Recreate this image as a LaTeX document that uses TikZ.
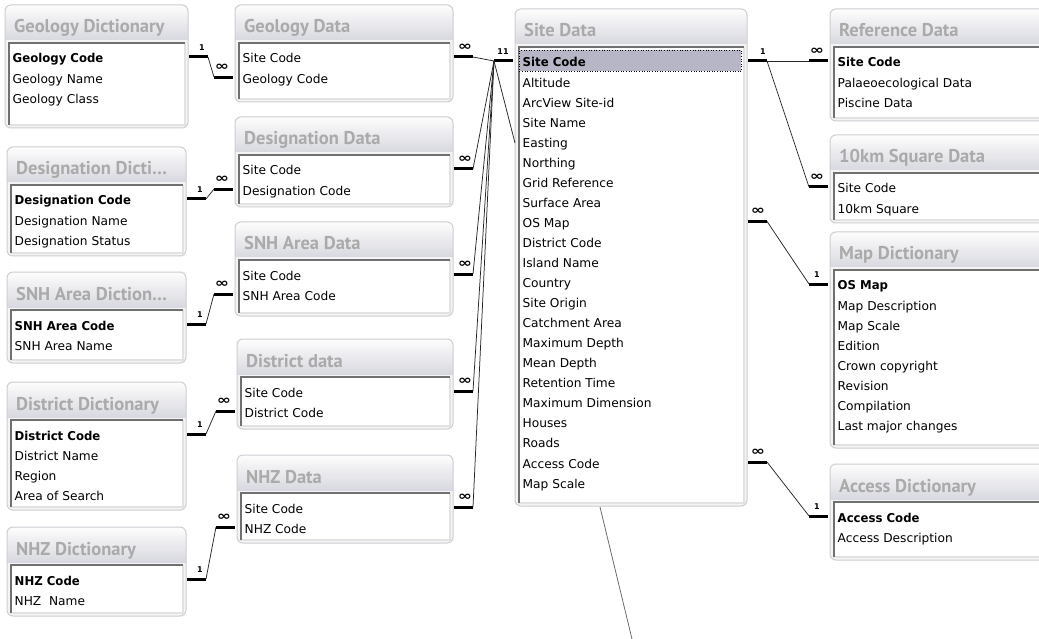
\documentclass[tikz,border=0pt]{standalone}
\usepackage{fontspec}
\setmainfont{DejaVu Sans}
\newfontfamily\fieldfont{DejaVu Sans}
\newfontfamily\pkfontfam[FakeStretch=0.96]{DejaVu Sans}
\newfontfamily\titlefontfam{PT Sans}
\usetikzlibrary{calc}
\definecolor{winborder}{RGB}{206,206,212}
\definecolor{winbody}{RGB}{244,244,244}
\definecolor{titletop}{RGB}{253,253,253}
\definecolor{titlebot}{RGB}{216,216,224}
\definecolor{titletext}{RGB}{170,170,170}
\definecolor{listdark}{RGB}{112,112,112}
\definecolor{listlight}{RGB}{226,226,226}
\definecolor{hlfill}{RGB}{182,182,198}
\tikzset{
  win/.style={fill=winbody, rounded corners=6pt, inner sep=0pt, outer sep=0pt},
  wintitle/.style={anchor=base west, inner sep=0pt, text=titletext, font=\titlefontfam\bfseries\fontsize{18.5}{19}\selectfont},
  listbox/.style={fill=white, inner sep=0pt, outer sep=0pt},
  field/.style={anchor=base west, inner sep=0pt, font=\fieldfont\fontsize{12.2}{13}\selectfont},
  hlrow/.style={fill=hlfill, draw=black, dotted, line width=0.6pt, inner sep=0pt},
  stub/.style={line width=3pt, black},
  relline/.style={line width=0.75pt, black!85},
  card/.style={inner sep=0pt, font=\bfseries\fontsize{8}{8}\selectfont},
  many/.style={inner sep=0pt, font=\bfseries\fontsize{11}{11}\selectfont},
}
\newcommand\pk[1]{{\pkfontfam\bfseries #1}}
\newcommand\manysign{\scalebox{1.55}[1.15]{∞}}
% #1 name, #2 x0, #3 x1, #4 first baseline, #5 bottom, #6 title
\newcommand\dbwin[6]{%
  \node[win, anchor=north west, minimum width={#3-#2}, minimum height={#5-#4+58}] (#1) at (#2,#4-58) {};
  \begin{scope}
    \clip[rounded corners=6pt] (#1.north west) rectangle (#1.south east);
    \shade[top color=titletop, bottom color=titlebot] (#2,#4-58) rectangle (#3,#4-23);
  \end{scope}
  \draw[winborder, line width=1pt, rounded corners=6pt] (#1.north west) rectangle (#1.south east);
  \node[wintitle] (#1-title) at (#2+9,#4-30) {#6};
  \node[listbox, anchor=north west, minimum width={#3-#2-7}, minimum height={#5-#4+17}] (#1-list) at (#2+4,#4-20) {};
  \draw[listlight, line width=1.2pt] (#1-list.north east) -- (#1-list.south east) -- (#1-list.south west);
  \draw[listdark, line width=1.6pt] (#1-list.south west) -- (#1-list.north west) -- (#1-list.north east);
}
% #1 name, #2 x0, #3 first baseline, #4 list
\newcommand\dbfields[4]{%
  \foreach \t [count=\i] in {#4} {
    \node[field] (#1-\i) at ({#2+7.5},{#3+(\i-1)*20.05}) {\t};
  }
}
% #1 id, #2 from window, #3 from field, #4 to window, #5 to field
\newcommand\rel[5]{%
  \coordinate (#1a) at ($(#2.east |- #3.base)+(1,-6)$);
  \coordinate (#1b) at ($(#1a)+(19,0)$);
  \coordinate (#1d) at ($(#4.west |- #5.base)+(-2,-6)$);
  \coordinate (#1c) at ($(#1d)+(-19,0)$);
  \draw[stub] (#1a) -- (#1b);
  \draw[stub] (#1c) -- (#1d);
  \draw[relline] (#1b) -- (#1c);
}
\begin{document}
\begin{tikzpicture}[x=1pt,y=-1pt]
\useasboundingbox (0,0) rectangle (1039,639);
\clip (0,0) rectangle (1039,639);
\fill[white] (0,0) rectangle (1039,639);

% left column: dictionaries
\dbwin{gdict}{5}{188}{63}{128}{Geology Dictionary}
\dbfields{gdict}{5}{63}{\pk{Geology Code},Geology Name,Geology Class}
\dbwin{ddict}{7}{186}{205}{256}{Designation Dicti…}
\dbfields{ddict}{7}{205}{\pk{Designation Code},Designation Name,Designation Status}
\dbwin{sdict}{7}{186}{330}{363}{SNH Area Diction…}
\dbfields{sdict}{7}{330}{\pk{SNH Area Code},SNH Area Name}
\dbwin{xdict}{7}{186}{440}{510}{District Dictionary}
\dbfields{xdict}{7}{440}{\pk{District Code},District Name,Region,Area of Search}
\dbwin{ndict}{7}{186}{585}{616}{NHZ Dictionary}
\dbfields{ndict}{7}{585}{\pk{NHZ Code},NHZ\ \ Name}

% second column: data tables
\dbwin{gdata}{235}{453}{63}{102}{Geology Data}
\dbfields{gdata}{235}{63}{Site Code,Geology Code}
\dbwin{ddata}{235}{453}{175}{207}{Designation Data}
\dbfields{ddata}{235}{175}{Site Code,Designation Code}
\dbwin{sdata}{235}{453}{280}{316}{SNH Area Data}
\dbfields{sdata}{235}{280}{Site Code,SNH Area Code}
\dbwin{xdata}{237}{453}{397}{429}{District data}
\dbfields{xdata}{237}{397}{Site Code,District Code}
\dbwin{ndata}{237}{453}{513}{543}{NHZ Data}
\dbfields{ndata}{237}{513}{Site Code,NHZ Code}

% Site Data
\dbwin{site}{515}{747}{67}{506}{Site Data}
\node[hlrow, anchor=north west, minimum width=222, minimum height=21] (sitehl) at (519,50) {};
\dbfields{site}{515}{67}{\pk{Site Code},Altitude,ArcView Site-id,Site Name,Easting,Northing,Grid Reference,Surface Area,OS Map,District Code,Island Name,Country,Site Origin,Catchment Area,Maximum Depth,Mean Depth,Retention Time,Maximum Dimension,Houses,Roads,Access Code,Map Scale}

% right column
\dbwin{ref}{830}{1050}{67}{121}{Reference Data}
\dbfields{ref}{830}{67}{\pk{Site Code},Palaeoecological Data,Piscine Data}
\dbwin{tk}{830}{1050}{193}{223}{10km Square Data}
\dbfields{tk}{830}{193}{Site Code,10km Square}
\dbwin{map}{830}{1050}{290}{448}{Map Dictionary}
\dbfields{map}{830}{290}{\pk{OS Map},Map Description,Map Scale,Edition,Crown copyright,Revision,Compilation,Last major changes}
\dbwin{acc}{830}{1050}{522}{560}{Access Dictionary}
\dbfields{acc}{830}{522}{\pk{Access Code},Access Description}

% relationships
\rel{r1}{gdict}{gdict-1}{gdata}{gdata-2}
\rel{r2}{ddict}{ddict-1}{ddata}{ddata-2}
\rel{r3}{sdict}{sdict-1}{sdata}{sdata-2}
\rel{r4}{xdict}{xdict-1}{xdata}{xdata-2}
\rel{r5}{ndict}{ndict-1}{ndata}{ndata-2}
\rel{r6}{gdata}{gdata-1}{site}{site-1}
\rel{r7}{ddata}{ddata-1}{site}{site-1}
\rel{r8}{sdata}{sdata-1}{site}{site-1}
\rel{r9}{xdata}{xdata-1}{site}{site-1}
\rel{r10}{ndata}{ndata-1}{site}{site-1}
\rel{r11}{site}{site-1}{ref}{ref-1}
\rel{r12}{site}{site-1}{tk}{tk-1}
\rel{r13}{site}{site-9}{map}{map-1}
\rel{r14}{site}{site-21}{acc}{acc-1}

% cardinality labels
\foreach \r in {r1,r2,r3,r4,r5} {
  \node[card] (\r-one) at ($(\r b)+(-6,-9)$) {1};
  \node[many] (\r-many) at ($(\r c)+(8,-10)$) {\manysign};
}
\foreach \r in {r6,r7,r8,r9,r10} {
  \node[many] (\r-many) at ($(\r b)+(-8,-10)$) {\manysign};
}
\node[card] (r6-one) at ($(r6c)+(9,-9)$) {11};
\node[card] (r11-one) at ($(r11b)+(-4,-9)$) {1};
\foreach \r in {r11,r12} {
  \node[many] (\r-many) at ($(\r c)+(8,-10)$) {\manysign};
}
\foreach \r in {r13,r14} {
  \node[many] (\r-many) at ($(\r b)+(-9,-10)$) {\manysign};
  \node[card] (\r-one) at ($(\r c)+(8,-9)$) {1};
}

% lines running to tables outside the view
\coordinate (hid1) at (515,143);
\draw[relline] (r6c) -- (hid1);
\coordinate (hid2) at (600,507);
\coordinate (hid3) at (632,639);
\draw[relline, black!60] (hid2) -- (hid3);
\end{tikzpicture}
\end{document}
